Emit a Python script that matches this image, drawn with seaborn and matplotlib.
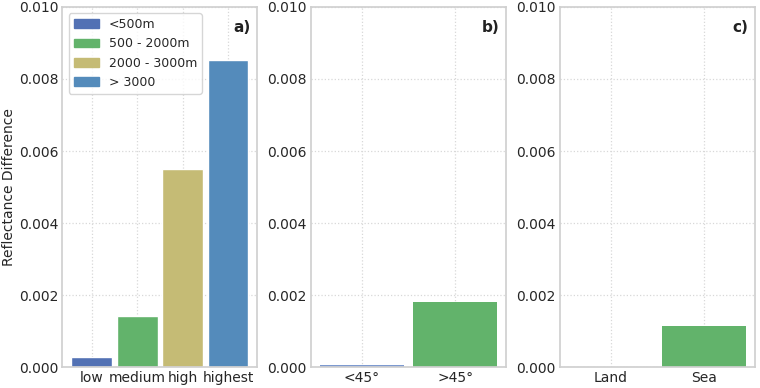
import matplotlib
matplotlib.use("Agg")
import matplotlib.pyplot as plt
from matplotlib.patches import Patch
import seaborn as sns

# data
alt_cats = ['low', 'medium', 'high', 'highest']
alt_vals = [0.00028, 0.00142, 0.0055, 0.00852]
alt_labels = ['<500m', '500 - 2000m', '2000 - 3000m', '> 3000']
ang_cats = ['<45°', '>45°']
ang_vals = [0.00006, 0.00182]
sfc_cats = ['Land', 'Sea']
sfc_vals = [0.0, 0.00113]

alt_colors = ['#5271b4', '#62b36b', '#c5bb75', '#548bbb']
two_colors = ['#7d9ad0', '#62b36b']

sns.set_theme(style='whitegrid')
plt.rcParams['font.family'] = ['DejaVu Sans']
plt.rcParams['axes.edgecolor'] = '#d0d0d0'

fig, axes = plt.subplots(1, 3, figsize=(7.6, 3.88), dpi=100)

sns.barplot(x=alt_cats, y=alt_vals, hue=alt_cats, palette=alt_colors,
            legend=False, width=0.9, ax=axes[0], saturation=1)
sns.barplot(x=ang_cats, y=ang_vals, hue=ang_cats, palette=two_colors,
            legend=False, width=0.9, ax=axes[1], saturation=1, linewidth=0)
sns.barplot(x=sfc_cats, y=sfc_vals, hue=sfc_cats, palette=two_colors,
            legend=False, width=0.9, ax=axes[2], saturation=1, linewidth=0)

for ax, lab, n in zip(axes, ['a)', 'b)', 'c)'], [4, 2, 2]):
    ax.set_ylim(0, 0.010)
    # matplotlib default margins around bars of width 0.9
    pad = 0.05 * (n - 1 + 0.9)
    ax.set_xlim(-0.45 - pad, n - 1 + 0.45 + pad)
    ax.set_yticks([0, 0.002, 0.004, 0.006, 0.008, 0.010])
    ax.set_yticklabels(['0.000', '0.002', '0.004', '0.006', '0.008', '0.010'])
    ax.tick_params(labelsize=10, length=0, pad=3)
    ax.set_xlabel('')
    ax.text(0.965, 0.965, lab, transform=ax.transAxes, ha='right', va='top',
            fontsize=11, fontweight='bold', color='#222222')
    ax.grid(True, linestyle=':', color='#d8d8d8', linewidth=0.9)
    ax.set_axisbelow(True)

axes[0].set_ylabel('Reflectance Difference', fontsize=10, labelpad=2)
handles = [Patch(color=c, label=l) for c, l in zip(alt_colors, alt_labels)]
axes[0].legend(handles=handles, loc='upper left', fontsize=9, frameon=True)

plt.subplots_adjust(left=0.082, right=0.993, top=0.982, bottom=0.054, wspace=0.275)
plt.savefig('out.png', dpi=100)
